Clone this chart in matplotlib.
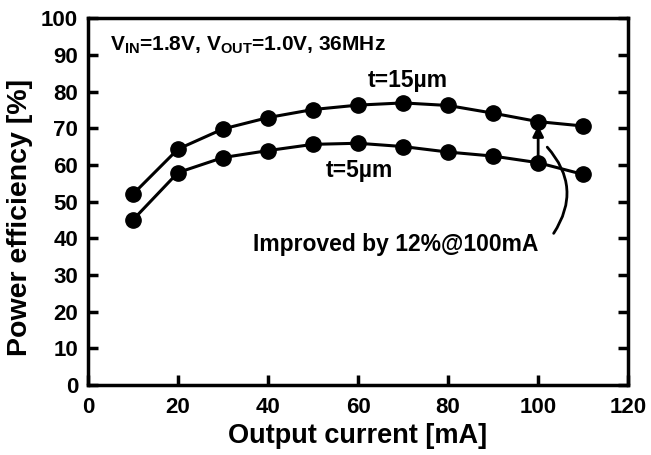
import matplotlib
matplotlib.use("Agg")
from matplotlib import pyplot as plt

plt.rcParams["font.family"] = ["Liberation Sans", "DejaVu Sans"]
plt.rcParams["font.weight"] = "bold"
plt.rcParams["mathtext.fontset"] = "custom"
plt.rcParams["mathtext.bf"] = "Liberation Sans:bold"
plt.rcParams["mathtext.rm"] = "Liberation Sans:bold"

current = [10, 20, 30, 40, 50, 60, 70, 80, 90, 100, 110]
eff_15um = [52, 64.3, 69.8, 72.9, 75.1, 76.3, 76.9, 76.2, 74.1, 71.8, 70.6]
eff_5um = [45, 57.9, 62, 63.9, 65.6, 65.9, 65, 63.5, 62.4, 60.6, 57.4]
x_ticks = [0, 20, 40, 60, 80, 100, 120]
y_ticks = list(range(0, 101, 10))

fig = plt.figure(figsize=(6.51, 4.55), dpi=100)
ax = fig.add_axes([0.135, 0.154, 0.83, 0.806])

ax.plot(current, eff_15um, color="black", lw=2.2, marker="o", ms=11)
ax.plot(current, eff_5um, color="black", lw=2.2, marker="o", ms=11)

ax.set_xlim(0, 120)
ax.set_ylim(0, 100)
ax.set_xticks(x_ticks)
ax.set_yticks(y_ticks)
ax.tick_params(direction="in", width=2.5, length=7, labelsize=16,
               top=False, right=True)
ax.tick_params(axis="y", pad=7)
ax.tick_params(axis="x", pad=9)
for s in ax.spines.values():
    s.set_linewidth(2.5)

ax.set_xlabel("Output current [mA]", fontsize=19.5, fontweight="bold", labelpad=3)
ax.set_ylabel("Power efficiency [%]", fontsize=20.5, fontweight="bold")
ax.yaxis.set_label_coords(-0.102, 0.458)

ax.text(4.9, 92.6, r"V$_{\mathrm{IN}}$=1.8V, V$_{\mathrm{OUT}}$=1.0V, 36MHz",
        fontsize=15, fontweight="bold", va="center", ha="left")
ax.text(71.1, 83.1, "t=15µm", fontsize=16.5, fontweight="bold", ha="center", va="center")
ax.text(60.2, 58.6, "t=5µm", fontsize=16.5, fontweight="bold", ha="center", va="center")
ax.text(68.4, 38.4, "Improved by 12%@100mA", fontsize=16.5, fontweight="bold",
        ha="center", va="center")

ax.annotate("", xy=(100, eff_15um[9] - 0.3), xytext=(100, eff_5um[9]),
            arrowprops=dict(arrowstyle="-|>", color="black", lw=2, mutation_scale=16))
ax.annotate("", xy=(101.6, 65.4), xytext=(103.1, 40.7),
            arrowprops=dict(arrowstyle="-", color="black", lw=2,
                            connectionstyle="arc3,rad=0.4"))

fig.savefig("out.png", dpi=100)
